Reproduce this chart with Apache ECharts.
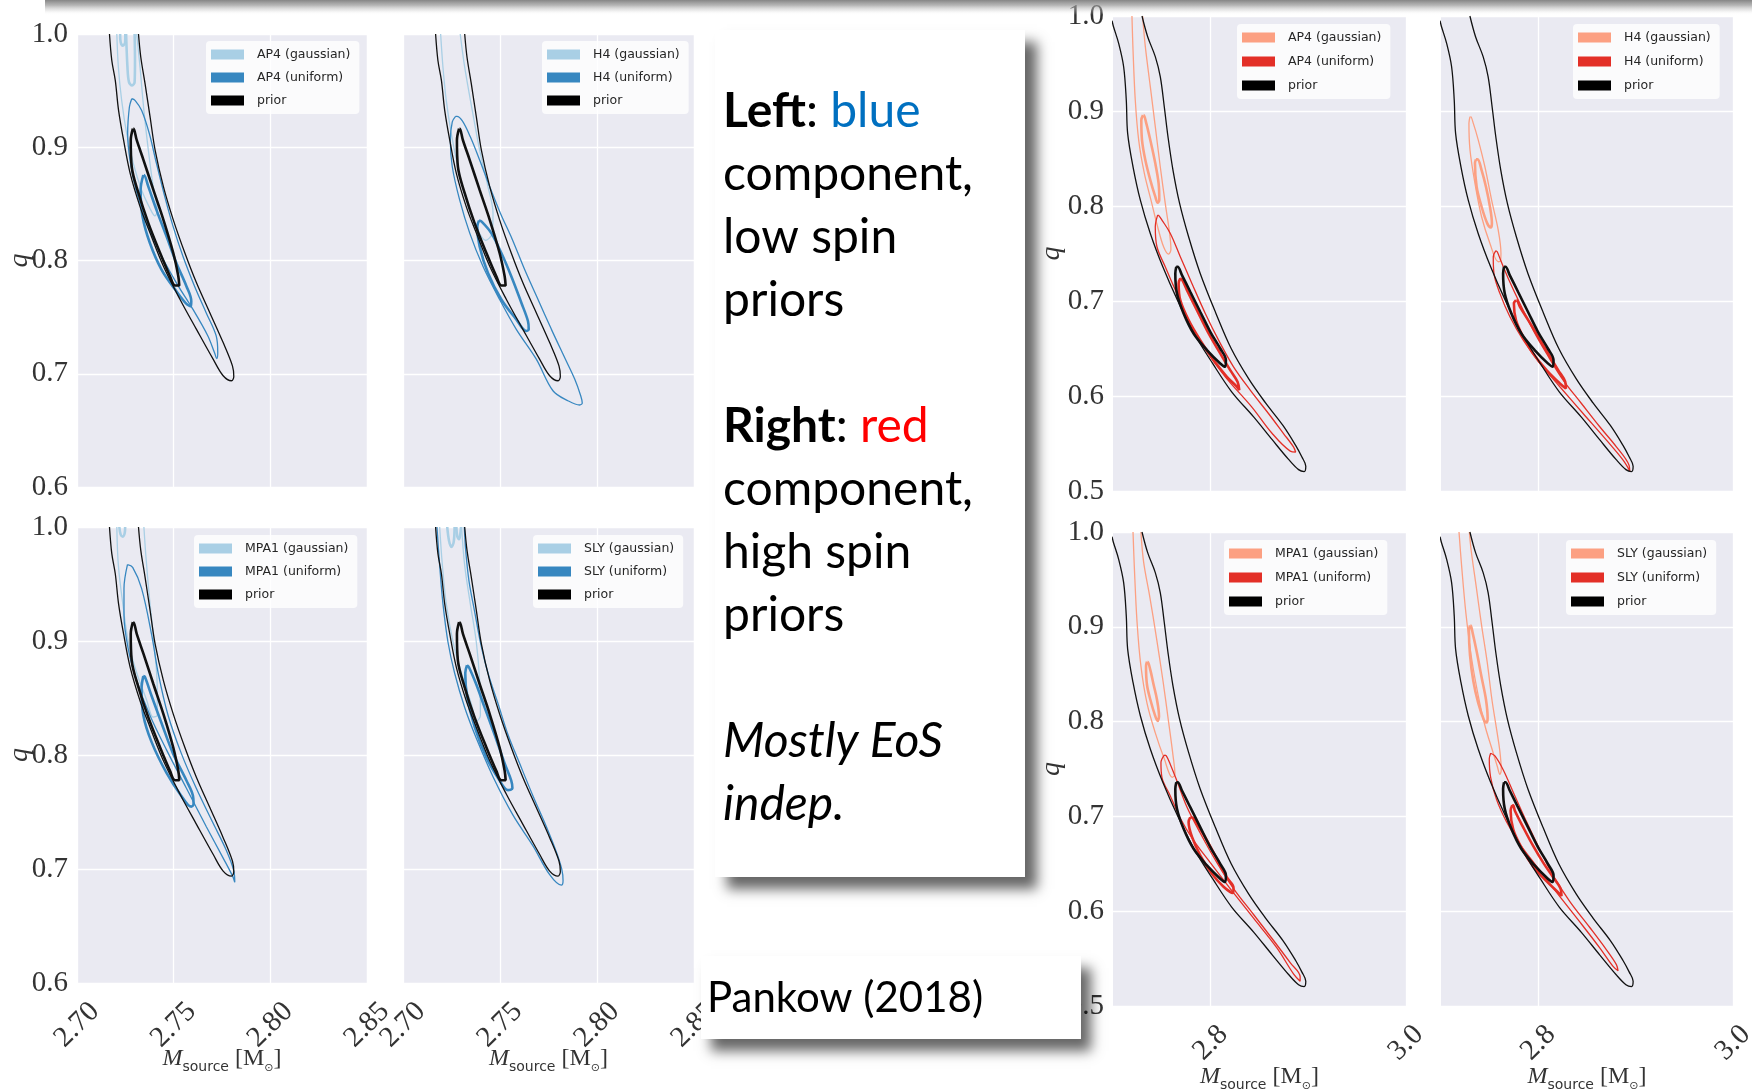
<!DOCTYPE html>
<html>
<head>
<meta charset="utf-8">
<script src="https://cdn.jsdelivr.net/npm/echarts@6/dist/echarts.min.js"></script>
<style>
html,body{margin:0;padding:0;background:#fff;}
#c{width:1756px;height:1091px;}
</style>
</head>
<body>
<div id="c"></div>
<script>
// ---------- axis ticks ----------
const LEFT_X_TICKS = [2.70, 2.75, 2.80, 2.85];
const LEFT_Q_TICKS = [0.6, 0.7, 0.8, 0.9, 1.0];
const RIGHT_X_RANGE = [2.7, 3.0];
const RIGHT_X_TICKS = [2.8, 3.0];
const RIGHT_Q_TICKS = [0.5, 0.6, 0.7, 0.8, 0.9, 1.0];

// ---------- prior contours (shared by all panels of one spin prior) ----------
const PRIOR_LO_OUTER = [[2.7168,1.0],[2.7180,0.9766],[2.7198,0.9590],[2.7215,0.9326],[2.7241,0.9062],[2.7275,0.8769],[2.7326,0.8476],[2.7378,0.8242],[2.7447,0.7949],[2.7533,0.7656],[2.7618,0.7392],[2.7704,0.7129],[2.7756,0.6982],[2.7799,0.6938],[2.7811,0.6976],[2.7804,0.7070],[2.7756,0.7275],[2.7687,0.7539],[2.7618,0.7803],[2.7558,0.8066],[2.7498,0.8359],[2.7447,0.8652],[2.7404,0.8975],[2.7378,0.9268],[2.7352,0.9561],[2.7330,0.9795],[2.7318,1.0]];
const PRIOR_LO_INNER = [[2.7289,0.9165],[2.7278,0.9062],[2.7283,0.8828],[2.7318,0.8594],[2.7369,0.8330],[2.7430,0.8066],[2.7481,0.7861],[2.7507,0.7779],[2.7529,0.7779],[2.7524,0.7861],[2.7498,0.8066],[2.7447,0.8359],[2.7395,0.8623],[2.7344,0.8887],[2.7309,0.9062],[2.7292,0.9165],[2.7289,0.9165]];
const PRIOR_HI_OUTER = [[2.6990,0.9950],[2.7003,0.9895],[2.7058,0.9712],[2.7109,0.9466],[2.7136,0.9115],[2.7150,0.8765],[2.7205,0.8413],[2.7280,0.8062],[2.7382,0.7711],[2.7510,0.7360],[2.7660,0.7009],[2.7830,0.6658],[2.8020,0.6343],[2.8215,0.6044],[2.8440,0.5780],[2.8630,0.5540],[2.8800,0.5330],[2.8900,0.5225],[2.8957,0.5205],[2.8974,0.5261],[2.8933,0.5360],[2.8870,0.5480],[2.8740,0.5690],[2.8560,0.5930],[2.8390,0.6180],[2.8210,0.6500],[2.8050,0.6880],[2.7893,0.7290],[2.7774,0.7676],[2.7682,0.8027],[2.7614,0.8378],[2.7563,0.8729],[2.7525,0.9045],[2.7484,0.9361],[2.7433,0.9572],[2.7355,0.9782],[2.7297,1.0]];
const PRIOR_HI_INNER = [[2.7648,0.7360],[2.7638,0.7290],[2.7655,0.7080],[2.7723,0.6869],[2.7825,0.6658],[2.7962,0.6483],[2.8098,0.6343],[2.8149,0.6308],[2.8156,0.6378],[2.8098,0.6500],[2.7996,0.6676],[2.7893,0.6887],[2.7791,0.7097],[2.7706,0.7273],[2.7662,0.7360],[2.7648,0.7360]];

// ---------- low spin (blue) ----------
const AP4_LO_GAUSS_OUTER = [[2.7206,1.0],[2.7214,0.9707],[2.7231,0.9414],[2.7257,0.9121],[2.7291,0.8857],[2.7334,0.8623],[2.7377,0.8462],[2.7403,0.8394],[2.7415,0.8447],[2.7394,0.8652],[2.7369,0.8975],[2.7346,0.9326],[2.7326,0.9707],[2.7309,1.0]];
const AP4_LO_GAUSS_INNER_A = [[2.7254,1.0],[2.7261,0.9707],[2.7269,0.9575],[2.7285,0.9546],[2.7298,0.9575],[2.7300,0.9766],[2.7298,1.0]];
const AP4_LO_GAUSS_INNER_B = [[2.7223,1.0],[2.7226,0.9927],[2.7237,0.9897],[2.7249,0.9927],[2.7250,1.0]];
const AP4_LO_UNI_OUTER = [[2.7283,0.9429],[2.7271,0.9355],[2.7262,0.9121],[2.7274,0.8887],[2.7305,0.8623],[2.7360,0.8330],[2.7429,0.8066],[2.7514,0.7803],[2.7600,0.7568],[2.7677,0.7334],[2.7711,0.7187],[2.7723,0.7134],[2.7728,0.7187],[2.7720,0.7334],[2.7668,0.7539],[2.7608,0.7773],[2.7548,0.8037],[2.7497,0.8301],[2.7454,0.8564],[2.7411,0.8857],[2.7374,0.9121],[2.7334,0.9326],[2.7300,0.9414],[2.7283,0.9429]];
const AP4_LO_UNI_INNER = [[2.7343,0.8755],[2.7329,0.8623],[2.7339,0.8389],[2.7377,0.8154],[2.7437,0.7920],[2.7514,0.7729],[2.7569,0.7612],[2.7590,0.7597],[2.7591,0.7641],[2.7566,0.7773],[2.7514,0.7978],[2.7463,0.8213],[2.7411,0.8447],[2.7369,0.8652],[2.7346,0.8755],[2.7343,0.8755]];

const H4_LO_GAUSS_OUTER = [[2.7194,1.0],[2.7206,0.9707],[2.7223,0.9414],[2.7249,0.9121],[2.7283,0.8828],[2.7326,0.8535],[2.7378,0.8301],[2.7426,0.8178],[2.7460,0.8242],[2.7464,0.8418],[2.7438,0.8652],[2.7395,0.8975],[2.7357,0.9326],[2.7318,0.9707],[2.7295,1.0]];
const H4_LO_UNI_OUTER = [[2.7271,0.9273],[2.7254,0.9224],[2.7244,0.9062],[2.7254,0.8828],[2.7292,0.8535],[2.7344,0.8242],[2.7412,0.7949],[2.7498,0.7656],[2.7584,0.7392],[2.7687,0.7129],[2.7773,0.6850],[2.7850,0.6762],[2.7911,0.6724],[2.7924,0.6742],[2.7916,0.6806],[2.7885,0.6953],[2.7833,0.7143],[2.7765,0.7392],[2.7696,0.7656],[2.7627,0.7920],[2.7564,0.8184],[2.7502,0.8418],[2.7447,0.8652],[2.7395,0.8887],[2.7347,0.9092],[2.7306,0.9232],[2.7278,0.9273],[2.7271,0.9273]];
const H4_LO_UNI_INNER = [[2.7392,0.8353],[2.7383,0.8301],[2.7395,0.8125],[2.7438,0.7890],[2.7507,0.7656],[2.7584,0.7480],[2.7636,0.7378],[2.7648,0.7392],[2.7644,0.7466],[2.7610,0.7627],[2.7558,0.7861],[2.7507,0.8066],[2.7455,0.8242],[2.7404,0.8345],[2.7392,0.8353]];

const MPA1_LO_GAUSS_OUTER = [[2.7206,1.0],[2.7214,0.9663],[2.7237,0.9326],[2.7266,0.8989],[2.7309,0.8719],[2.7360,0.8483],[2.7394,0.8332],[2.7415,0.8349],[2.7415,0.8585],[2.7398,0.8989],[2.7374,0.9393],[2.7357,0.9730],[2.7346,1.0]];
const MPA1_LO_GAUSS_INNER = [[2.7219,1.0],[2.7226,0.9933],[2.7237,0.9916],[2.7247,0.9949],[2.7249,1.0]];
const MPA1_LO_UNI_OUTER = [[2.7261,0.9670],[2.7243,0.9461],[2.7243,0.9225],[2.7266,0.8922],[2.7309,0.8652],[2.7377,0.8349],[2.7463,0.8045],[2.7566,0.7708],[2.7669,0.7371],[2.7754,0.7102],[2.7806,0.6933],[2.7816,0.6883],[2.7811,0.6984],[2.7771,0.7169],[2.7703,0.7405],[2.7617,0.7708],[2.7540,0.8012],[2.7471,0.8349],[2.7420,0.8719],[2.7386,0.9056],[2.7334,0.9461],[2.7288,0.9646],[2.7261,0.9670]];
const MPA1_LO_UNI_INNER = [[2.7343,0.8692],[2.7334,0.8585],[2.7343,0.8349],[2.7386,0.8113],[2.7463,0.7843],[2.7540,0.7641],[2.7591,0.7547],[2.7603,0.7567],[2.7600,0.7641],[2.7566,0.7776],[2.7497,0.8012],[2.7437,0.8281],[2.7386,0.8517],[2.7351,0.8686],[2.7343,0.8692]];

const SLY_LO_GAUSS_OUTER = [[2.7189,1.0],[2.7203,0.9663],[2.7223,0.9326],[2.7258,0.8989],[2.7301,0.8719],[2.7352,0.8450],[2.7381,0.8298],[2.7399,0.8349],[2.7395,0.8652],[2.7378,0.8989],[2.7347,0.9326],[2.7318,0.9663],[2.7302,1.0]];
const SLY_LO_GAUSS_INNER_A = [[2.7228,1.0],[2.7237,0.9882],[2.7249,0.9825],[2.7261,0.9865],[2.7266,1.0]];
const SLY_LO_GAUSS_INNER_B = [[2.7275,1.0],[2.7280,0.9916],[2.7289,0.9892],[2.7295,0.9933],[2.7299,1.0]];
const SLY_LO_UNI_OUTER = [[2.7175,1.0],[2.7189,0.9663],[2.7206,0.9326],[2.7232,0.8989],[2.7266,0.8719],[2.7318,0.8416],[2.7378,0.8146],[2.7464,0.7809],[2.7567,0.7472],[2.7670,0.7203],[2.7756,0.6950],[2.7816,0.6859],[2.7825,0.6900],[2.7818,0.7001],[2.7790,0.7152],[2.7739,0.7371],[2.7670,0.7641],[2.7601,0.7927],[2.7541,0.8180],[2.7490,0.8450],[2.7438,0.8719],[2.7399,0.8989],[2.7369,0.9259],[2.7340,0.9528],[2.7323,0.9798],[2.7316,1.0]];
const SLY_LO_UNI_INNER = [[2.7330,0.8787],[2.7321,0.8719],[2.7330,0.8517],[2.7369,0.8248],[2.7430,0.7978],[2.7498,0.7776],[2.7541,0.7692],[2.7564,0.7708],[2.7558,0.7776],[2.7524,0.7927],[2.7472,0.8180],[2.7421,0.8416],[2.7378,0.8618],[2.7340,0.8770],[2.7330,0.8787]];

// ---------- high spin (red) ----------
const AP4_HI_GAUSS_OUTER = [[2.7194,1.0],[2.7205,0.9642],[2.7228,0.9115],[2.7263,0.8694],[2.7321,0.8343],[2.7389,0.8062],[2.7457,0.7782],[2.7518,0.7571],[2.7569,0.7494],[2.7593,0.7543],[2.7580,0.7711],[2.7535,0.8027],[2.7484,0.8413],[2.7433,0.8835],[2.7382,0.9256],[2.7331,0.9677],[2.7303,1.0]];
const AP4_HI_GAUSS_INNER = [[2.7307,0.8957],[2.7290,0.8905],[2.7297,0.8694],[2.7331,0.8484],[2.7382,0.8273],[2.7433,0.8098],[2.7457,0.8034],[2.7474,0.8062],[2.7467,0.8238],[2.7433,0.8449],[2.7382,0.8694],[2.7341,0.8870],[2.7314,0.8957],[2.7307,0.8957]];
const AP4_HI_UNI_OUTER = [[2.7457,0.7904],[2.7433,0.7782],[2.7450,0.7571],[2.7535,0.7360],[2.7638,0.7115],[2.7757,0.6834],[2.7928,0.6518],[2.8150,0.6202],[2.8420,0.5886],[2.8630,0.5605],[2.8815,0.5420],[2.8870,0.5410],[2.8848,0.5465],[2.8746,0.5605],[2.8592,0.5816],[2.8405,0.6062],[2.8234,0.6307],[2.8081,0.6588],[2.7945,0.6869],[2.7808,0.7185],[2.7689,0.7466],[2.7587,0.7711],[2.7501,0.7852],[2.7467,0.7901],[2.7457,0.7904]];
const AP4_HI_UNI_INNER = [[2.7689,0.7238],[2.7672,0.7185],[2.7689,0.7009],[2.7774,0.6799],[2.7893,0.6588],[2.8030,0.6378],[2.8166,0.6202],[2.8269,0.6097],[2.8293,0.6062],[2.8275,0.6150],[2.8200,0.6272],[2.8098,0.6448],[2.7979,0.6658],[2.7859,0.6904],[2.7757,0.7115],[2.7706,0.7227],[2.7689,0.7238]];

const H4_HI_GAUSS_OUTER = [[2.7298,0.8940],[2.7287,0.8870],[2.7298,0.8589],[2.7349,0.8238],[2.7417,0.7887],[2.7503,0.7606],[2.7588,0.7413],[2.7612,0.7424],[2.7616,0.7501],[2.7588,0.7746],[2.7520,0.8062],[2.7451,0.8413],[2.7383,0.8694],[2.7332,0.8870],[2.7304,0.8940],[2.7298,0.8940]];
const H4_HI_GAUSS_INNER = [[2.7359,0.8491],[2.7349,0.8449],[2.7366,0.8203],[2.7417,0.7992],[2.7475,0.7817],[2.7510,0.7775],[2.7523,0.7817],[2.7503,0.7992],[2.7462,0.8203],[2.7417,0.8378],[2.7376,0.8491],[2.7359,0.8491]];
const H4_HI_UNI_OUTER = [[2.7564,0.7529],[2.7537,0.7466],[2.7544,0.7290],[2.7605,0.7080],[2.7708,0.6834],[2.7845,0.6588],[2.8016,0.6343],[2.8221,0.6097],[2.8460,0.5816],[2.8700,0.5535],[2.8871,0.5325],[2.8939,0.5212],[2.8932,0.5272],[2.8802,0.5465],[2.8631,0.5676],[2.8443,0.5921],[2.8255,0.6167],[2.8084,0.6448],[2.7947,0.6694],[2.7811,0.6974],[2.7691,0.7238],[2.7612,0.7431],[2.7578,0.7518],[2.7564,0.7529]];
const H4_HI_UNI_INNER = [[2.7770,0.7009],[2.7749,0.6974],[2.7770,0.6799],[2.7845,0.6623],[2.7947,0.6448],[2.8084,0.6272],[2.8221,0.6132],[2.8283,0.6079],[2.8276,0.6150],[2.8204,0.6272],[2.8101,0.6448],[2.7999,0.6623],[2.7896,0.6799],[2.7811,0.6939],[2.7776,0.7009],[2.7770,0.7009]];

const MPA1_HI_GAUSS_OUTER = [[2.7205,1.0],[2.7218,0.9640],[2.7246,0.9054],[2.7286,0.8585],[2.7348,0.8194],[2.7433,0.7881],[2.7525,0.7607],[2.7607,0.7412],[2.7634,0.7443],[2.7614,0.7646],[2.7569,0.7998],[2.7512,0.8428],[2.7443,0.8897],[2.7375,0.9327],[2.7314,0.9679],[2.7286,1.0]];
const MPA1_HI_GAUSS_INNER = [[2.7348,0.8632],[2.7338,0.8585],[2.7348,0.8389],[2.7382,0.8233],[2.7433,0.8057],[2.7457,0.8006],[2.7471,0.8057],[2.7450,0.8233],[2.7416,0.8389],[2.7382,0.8545],[2.7355,0.8632],[2.7348,0.8632]];
const MPA1_HI_UNI_OUTER = [[2.7525,0.7646],[2.7491,0.7568],[2.7501,0.7412],[2.7587,0.7216],[2.7689,0.6981],[2.7825,0.6747],[2.7996,0.6512],[2.8200,0.6239],[2.8439,0.5926],[2.8678,0.5613],[2.8848,0.5339],[2.8916,0.5261],[2.8916,0.5308],[2.8814,0.5457],[2.8644,0.5691],[2.8439,0.5965],[2.8234,0.6239],[2.8064,0.6512],[2.7893,0.6825],[2.7757,0.7099],[2.7655,0.7373],[2.7587,0.7548],[2.7546,0.7638],[2.7525,0.7646]];
const MPA1_HI_UNI_INNER = [[2.7791,0.6989],[2.7774,0.6942],[2.7808,0.6786],[2.7893,0.6590],[2.8013,0.6395],[2.8132,0.6258],[2.8228,0.6192],[2.8234,0.6246],[2.8166,0.6356],[2.8064,0.6551],[2.7962,0.6747],[2.7859,0.6923],[2.7808,0.6989],[2.7791,0.6989]];

const SLY_HI_GAUSS_OUTER = [[2.7185,1.0],[2.7212,0.9640],[2.7257,0.9132],[2.7315,0.8663],[2.7383,0.8272],[2.7451,0.7959],[2.7520,0.7724],[2.7578,0.7529],[2.7605,0.7443],[2.7619,0.7490],[2.7605,0.7685],[2.7571,0.7920],[2.7523,0.8233],[2.7475,0.8624],[2.7417,0.9015],[2.7359,0.9445],[2.7311,0.9797],[2.7291,1.0]];
const SLY_HI_GAUSS_INNER = [[2.7298,0.9015],[2.7287,0.8956],[2.7298,0.8702],[2.7332,0.8428],[2.7383,0.8194],[2.7441,0.8018],[2.7469,0.7990],[2.7479,0.8037],[2.7462,0.8233],[2.7417,0.8468],[2.7366,0.8741],[2.7325,0.8936],[2.7304,0.9015],[2.7298,0.9015]];
const SLY_HI_UNI_OUTER = [[2.7510,0.7666],[2.7496,0.7607],[2.7510,0.7412],[2.7571,0.7177],[2.7674,0.6942],[2.7811,0.6708],[2.7982,0.6473],[2.8187,0.6199],[2.8426,0.5887],[2.8631,0.5613],[2.8768,0.5417],[2.8819,0.5371],[2.8802,0.5437],[2.8700,0.5593],[2.8529,0.5828],[2.8324,0.6102],[2.8153,0.6375],[2.8016,0.6649],[2.7879,0.6942],[2.7742,0.7255],[2.7640,0.7490],[2.7554,0.7638],[2.7510,0.7666]];
const SLY_HI_UNI_INNER = [[2.7732,0.7118],[2.7715,0.7060],[2.7742,0.6864],[2.7828,0.6669],[2.7947,0.6473],[2.8084,0.6317],[2.8221,0.6180],[2.8238,0.6160],[2.8228,0.6239],[2.8153,0.6356],[2.8050,0.6512],[2.7947,0.6688],[2.7845,0.6884],[2.7759,0.7060],[2.7742,0.7118],[2.7732,0.7118]];

// ---------- styling ----------
const BLUE_LIGHT = '#a9cfe5', BLUE_DARK = '#3787c0';
const RED_LIGHT = '#fca082', RED_DARK = '#e32f27';
const PRIOR_COLOR = '#111111';
const PANEL_BG = '#eaeaf2';
const TICK_FONT = 'Liberation Serif';
const THIN = 1.3, THICK = 2.6;

const panels = [
  { eos:'AP4',  grid:{left:77,  top:34,  width:290, height:453}, hi:false, xLab:false, yLab:true,
    gOut:[AP4_LO_GAUSS_OUTER], gIn:[AP4_LO_GAUSS_INNER_A, AP4_LO_GAUSS_INNER_B], uOut:AP4_LO_UNI_OUTER, uIn:AP4_LO_UNI_INNER, leg:[206,41] },
  { eos:'H4',   grid:{left:403, top:34,  width:291, height:453}, hi:false, xLab:false, yLab:false,
    gOut:[H4_LO_GAUSS_OUTER], gIn:[], uOut:H4_LO_UNI_OUTER, uIn:H4_LO_UNI_INNER, leg:[542,41] },
  { eos:'MPA1', grid:{left:77,  top:527, width:290, height:456}, hi:false, xLab:true, yLab:true,
    gOut:[MPA1_LO_GAUSS_OUTER], gIn:[MPA1_LO_GAUSS_INNER], uOut:MPA1_LO_UNI_OUTER, uIn:MPA1_LO_UNI_INNER, leg:[194,535] },
  { eos:'SLY',  grid:{left:403, top:527, width:291, height:456}, hi:false, xLab:true, yLab:false,
    gOut:[SLY_LO_GAUSS_OUTER], gIn:[SLY_LO_GAUSS_INNER_A, SLY_LO_GAUSS_INNER_B], uOut:SLY_LO_UNI_OUTER, uIn:SLY_LO_UNI_INNER, leg:[533,535] },
  { eos:'AP4',  grid:{left:1113, top:16,  width:293, height:475}, hi:true, xLab:false, yLab:true,
    gOut:[AP4_HI_GAUSS_OUTER], gIn:[AP4_HI_GAUSS_INNER], uOut:AP4_HI_UNI_OUTER, uIn:AP4_HI_UNI_INNER, leg:[1237,24] },
  { eos:'H4',   grid:{left:1441, top:16,  width:292, height:475}, hi:true, xLab:false, yLab:false,
    gOut:[H4_HI_GAUSS_OUTER], gIn:[H4_HI_GAUSS_INNER], uOut:H4_HI_UNI_OUTER, uIn:H4_HI_UNI_INNER, leg:[1573,24] },
  { eos:'MPA1', grid:{left:1113, top:532, width:293, height:474}, hi:true, xLab:true, yLab:true,
    gOut:[MPA1_HI_GAUSS_OUTER], gIn:[MPA1_HI_GAUSS_INNER], uOut:MPA1_HI_UNI_OUTER, uIn:MPA1_HI_UNI_INNER, leg:[1224,540] },
  { eos:'SLY',  grid:{left:1441, top:532, width:292, height:474}, hi:true, xLab:true, yLab:false,
    gOut:[SLY_HI_GAUSS_OUTER], gIn:[SLY_HI_GAUSS_INNER], uOut:SLY_HI_UNI_OUTER, uIn:SLY_HI_UNI_INNER, leg:[1566,540] }
];

const xNameRich = {
  it:  { fontFamily: TICK_FONT, fontStyle:'italic', fontSize:24, color:'#333', lineHeight:30, verticalAlign:'middle' },
  sub: { fontFamily:'DejaVu Sans', fontSize:14, color:'#333', lineHeight:14, verticalAlign:'bottom', padding:[0,6,0,0] },
  rm:  { fontFamily: TICK_FONT, fontSize:24, color:'#333', lineHeight:30, verticalAlign:'middle' },
  sun: { fontFamily:'DejaVu Sans', fontSize:11, color:'#333', lineHeight:14, verticalAlign:'bottom' }
};
const X_NAME = '{it|M}{sub|source}{rm|[M}{sun|\u2299}{rm|]}';

const grids = [], xAxes = [], yAxes = [], series = [], legends = [];

function contour(name, data, idx, color, width, z) {
  return {
    type:'line', name, data, xAxisIndex:idx, yAxisIndex:idx,
    symbol:'none', showSymbol:false, smooth:0.35, clip:true, silent:true,
    animation:false, z, lineStyle:{ color, width }, itemStyle:{ color }
  };
}

panels.forEach((p, i) => {
  grids.push(Object.assign({ show:true, backgroundColor:PANEL_BG, borderWidth:0, containLabel:false, outerBoundsMode:'none' }, p.grid));
  const xTicks = p.hi ? RIGHT_X_TICKS : LEFT_X_TICKS;
  const qTicks = p.hi ? RIGHT_Q_TICKS : LEFT_Q_TICKS;
  const xAxis = {
    type:'value', gridIndex:i,
    min: p.hi ? RIGHT_X_RANGE[0] : xTicks[0],
    max: p.hi ? RIGHT_X_RANGE[1] : xTicks[xTicks.length - 1],
    axisLine:{show:false}, axisTick:{show:false},
    splitLine:{ show:true, lineStyle:{ color:'#ffffff', width:1.3 } },
    nameMoveOverlap:false,
    axisLabel:{
      show:p.xLab, rotate:45, align:'center', verticalAlign:'middle', margin: p.hi ? 37 : 42,
      fontFamily:TICK_FONT, fontSize:29, color:'#333',
      showMinLabel:true, showMaxLabel:true,
      formatter: v => p.hi ? v.toFixed(1) : v.toFixed(2)
    }
  };
  if (p.hi) {
    xAxis.axisLabel.customValues = xTicks;
    xAxis.axisTick.customValues = xTicks;
  } else {
    xAxis.interval = xTicks[1] - xTicks[0];
  }
  if (p.xLab) {
    xAxis.name = X_NAME;
    xAxis.nameLocation = 'middle';
    xAxis.nameGap = p.hi ? 56 : 61;
    xAxis.nameTextStyle = { rich: xNameRich };
  }
  xAxes.push(xAxis);

  const yAxis = {
    type:'value', gridIndex:i, min:qTicks[0], max:qTicks[qTicks.length - 1],
    interval: 0.1,
    axisLine:{show:false}, axisTick:{show:false},
    splitLine:{ show:true, lineStyle:{ color:'#ffffff', width:1.3 } },
    nameMoveOverlap:false,
    axisLabel:{ show:p.yLab, margin:9, fontFamily:TICK_FONT, fontSize:29, color:'#333',
      showMinLabel:true, showMaxLabel:true, formatter: v => v.toFixed(1) }
  };
  if (p.yLab) {
    yAxis.name = 'q';
    yAxis.nameLocation = 'middle';
    yAxis.nameRotate = 90;
    yAxis.nameGap = p.hi ? 47 : 43;
    yAxis.nameTextStyle = { fontFamily:TICK_FONT, fontStyle:'italic', fontSize:28, color:'#333' };
  }
  yAxes.push(yAxis);

  const light = p.hi ? RED_LIGHT : BLUE_LIGHT;
  const dark = p.hi ? RED_DARK : BLUE_DARK;
  const gName = p.eos + ' (gaussian)', uName = p.eos + ' (uniform)';
  p.gOut.forEach(d => series.push(contour(gName, d, i, light, THIN, 2)));
  p.gIn.forEach(d => series.push(contour(gName, d, i, light, THICK, 2)));
  series.push(contour(uName, p.uOut, i, dark, THIN, 3));
  series.push(contour(uName, p.uIn, i, dark, THICK, 3));
  series.push(contour('prior', p.hi ? PRIOR_HI_OUTER : PRIOR_LO_OUTER, i, PRIOR_COLOR, THIN, 4));
  series.push(contour('prior', p.hi ? PRIOR_HI_INNER : PRIOR_LO_INNER, i, PRIOR_COLOR, THICK, 4));

  legends.push({
    left:p.leg[0], top:p.leg[1], orient:'vertical', icon:'rect',
    itemWidth:33, itemHeight:10, itemGap: p.hi ? 9 : 8,
    padding:[6, 9, 6, 5], backgroundColor:'rgba(255,255,255,0.78)', borderRadius:4, borderWidth:0,
    selectedMode:false, itemStyle:{ borderWidth:0 },
    textStyle:{ fontFamily:'DejaVu Sans', fontSize:12.5, color:'#262626', lineHeight:15, padding:[0,0,0,8] },
    data:[
      { name:gName, itemStyle:{ color:light, borderWidth:0 } },
      { name:uName, itemStyle:{ color:dark, borderWidth:0 } },
      { name:'prior', itemStyle:{ color:'#000', borderWidth:0 } }
    ]
  });
});

const noteText = [
  '{b|Left}: {blue|blue}',
  'component,',
  'low spin',
  'priors',
  '',
  '{b|Right}: {red|red}',
  'component,',
  'high spin',
  'priors',
  '',
  '{i|Mostly EoS}',
  '{i|indep.}'
].join('\n');

const option = {
  backgroundColor:'#ffffff',
  animation:false,
  grid:grids, xAxis:xAxes, yAxis:yAxes, series, legend:legends,
  graphic:[
    { type:'rect', z:50, silent:true, shape:{ x:45, y:0, width:1707, height:15 },
      style:{ fill:{ type:'linear', x:0, y:0, x2:0, y2:1, colorStops:[
        { offset:0, color:'rgba(120,120,120,0.9)' },
        { offset:0.35, color:'rgba(150,150,150,0.7)' },
        { offset:0.7, color:'rgba(200,200,200,0.35)' },
        { offset:1, color:'rgba(255,255,255,0)' } ] } } },
    { type:'rect', z:60, silent:true, shape:{ x:715, y:30, width:310, height:847 },
      style:{ fill:'#ffffff', shadowBlur:12, shadowOffsetX:12, shadowOffsetY:12, shadowColor:'rgba(0,0,0,0.6)' } },
    { type:'text', z:61, silent:true, x:723, y:80,
      style:{ text:noteText, fontFamily:'Lato', fontSize:48, lineHeight:63, fill:'#000', align:'left', verticalAlign:'top',
        rich:{
          b:{ fontFamily:'Lato', fontWeight:'bold', fontSize:48, lineHeight:63, fill:'#000' },
          blue:{ fontFamily:'Lato', fontSize:48, lineHeight:63, fill:'#0070c0' },
          red:{ fontFamily:'Lato', fontSize:48, lineHeight:63, fill:'#ff0000' },
          i:{ fontFamily:'Lato', fontStyle:'italic', fontSize:48, lineHeight:63, fill:'#000' }
        } } },
    { type:'rect', z:60, silent:true, shape:{ x:701, y:956, width:380, height:83 },
      style:{ fill:'#ffffff', shadowBlur:12, shadowOffsetX:10, shadowOffsetY:12, shadowColor:'rgba(0,0,0,0.6)' } },
    { type:'text', z:61, silent:true, x:707, y:998,
      style:{ text:'Pankow (2018)', fontFamily:'Lato', fontSize:42, fill:'#000', align:'left', verticalAlign:'middle' } }
  ]
};

const chart = echarts.init(document.getElementById('c'), null, { renderer:'canvas', width:1756, height:1091 });
chart.setOption(option);
</script>
</body>
</html>
